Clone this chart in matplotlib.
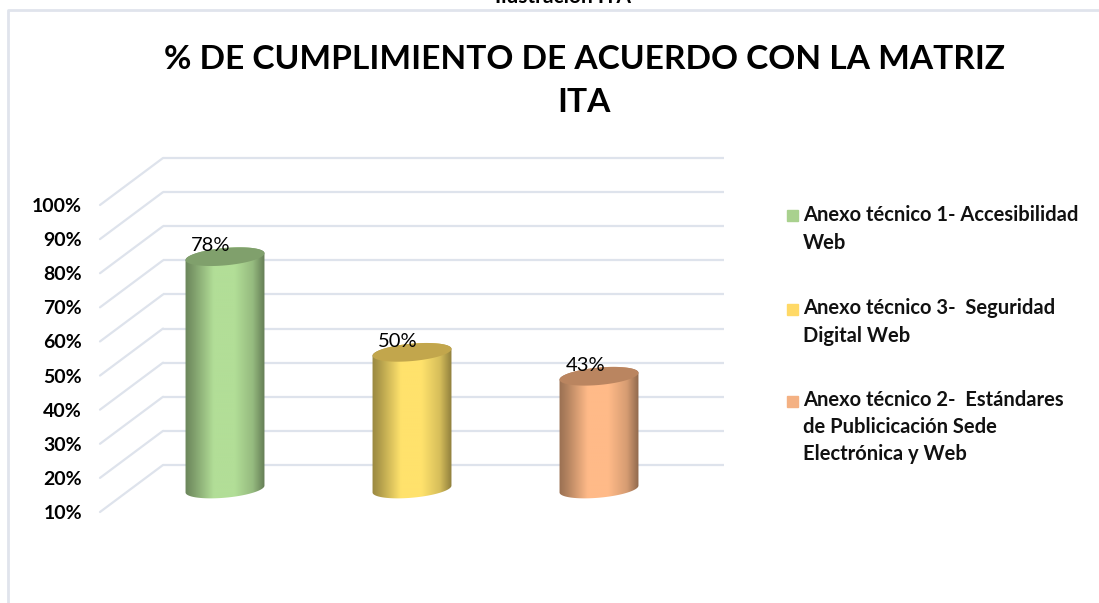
#!/usr/bin/env python
import matplotlib
matplotlib.use("Agg")
import matplotlib.pyplot as plt
import numpy as np
from matplotlib.lines import Line2D
from matplotlib.patches import ConnectionPatch, PathPatch, Rectangle
from matplotlib.path import Path
from matplotlib.colors import to_rgb

caption = "Ilustración ITA"
title = "% DE CUMPLIMIENTO DE ACUERDO CON LA MATRIZ\nITA"
percent_ticks = [10, 20, 30, 40, 50, 60, 70, 80, 90, 100]
tick_labels = ["10%", "20%", "30%", "40%", "50%", "60%", "70%", "80%", "90%", "100%"]
values = [78, 50, 43]
value_labels = ["78%", "50%", "43%"]
categories = ["Anexo técnico 1- Accesibilidad\nWeb",
              "Anexo técnico 3-  Seguridad\nDigital Web",
              "Anexo técnico 2-  Estándares\nde Publicicación Sede\nElectrónica y Web"]
body_colors = ["#B2DE97", "#FFE26C", "#FFBA88"]
cap_colors = ["#80A06C", "#C2A64C", "#BA8560"]
legend_colors = ["#A9D18E", "#FFD966", "#F4B183"]

W, H = 1099, 603
GRID = "#DEE3EC"

# legend layout in pixels: first line centre, number of lines
legend_rows = [(216, 2), (309, 2), (401, 3)]
LINE_PITCH = 26


def add_plane(x0, y_top, y_bot, width=561):
    # axes placed in pixel positions, y runs from 10% to 100%
    ax = fig.add_axes([x0 / W, 1 - y_bot / H, width / W, (y_bot - y_top) / H])
    ax.set_xlim(-0.5, 2.5)
    ax.set_ylim(10, 100)
    ax.patch.set_visible(False)
    for s in ax.spines.values():
        s.set_visible(False)
    ax.set_xticks([])
    ax.set_yticks([])
    return ax


def ellipse(cx, cy, t):
    # tilted ellipse, right side sits a little higher than left
    a, b, tilt = 0.211, 2.55, 1.0
    return cx + a * np.cos(t), cy + b * np.sin(t) + tilt * np.cos(t)


def draw_cylinder(ax, cx, value, body, cap):
    xb, yb = ellipse(cx, 10, np.linspace(np.pi, 2 * np.pi, 60))
    xt, yt = ellipse(cx, value, np.linspace(0, np.pi, 60))
    verts = np.column_stack([np.r_[xb, xt], np.r_[yb, yt]])
    clip = PathPatch(Path(verts), transform=ax.transData, fc="none", ec="none")
    ax.add_patch(clip)

    pos = np.linspace(0, 1, 200)
    shade = np.interp(pos, [0, 0.1, 0.36, 0.62, 0.85, 1], [0.6, 0.7, 1, 1, 0.84, 0.56])
    grad = np.array(to_rgb(body))[None, None, :] * shade[None, :, None]
    im = ax.imshow(grad, extent=[cx - 0.212, cx + 0.212, 0, value + 5], aspect="auto",
                   interpolation="bilinear", zorder=2)
    # the base of the cylinder hangs below the axes box
    im.set_clip_box(fig.bbox)
    im.set_clip_path(clip)

    xc, yc = ellipse(cx, value, np.linspace(0, 2 * np.pi, 120))
    ax.fill(xc, yc, color=cap, lw=0, zorder=3, clip_on=False)


fig = plt.figure(figsize=(W / 100, H / 100), dpi=100)
plt.rcParams["font.family"] = ["Lato", "DejaVu Sans"]

# outer frame of the screenshot
fig.add_artist(Line2D([8 / W, 8 / W, 1], [0, 1 - 10 / H, 1 - 10 / H], color="#E0E4EC", lw=2))
fig.text(563 / W, 1 - 3 / H, caption, ha="center", va="baseline", fontsize=15, fontweight="bold")
fig.text(584 / W, 1 - 81 / H, title, ha="center", va="center", fontsize=24.1,
         fontweight="bold", linespacing=1.56)

back = add_plane(163, 158, 465)
mid = add_plane(131.5, 181.5, 489)
front = add_plane(100, 205, 512)

back.hlines(percent_ticks, -0.5, 2.5, color=GRID, lw=1.6, clip_on=False)
for p in percent_ticks:
    back.add_artist(ConnectionPatch((-0.5, p), (-0.5, p), coordsA=back.transData,
                                    coordsB=front.transData, color=GRID, lw=1.6))

front.set_yticks(percent_ticks, tick_labels, fontsize=14, fontweight="bold")
front.tick_params(axis="y", length=0, pad=13)

for i, v in enumerate(values):
    draw_cylinder(mid, i, v, body_colors[i], cap_colors[i])
    mid.annotate(value_labels[i], (i, v), xytext=(-10, 8), textcoords="offset points",
                 ha="center", va="center", fontsize=14.5, zorder=5)
mid.set_xlim(-0.5, 2.5)
mid.set_ylim(10, 100)

for (y0, nlines), label, color in zip(legend_rows, categories, legend_colors):
    fig.add_artist(Rectangle((787 / W, 1 - (y0 + 5.5) / H), 11 / W, 11 / H, color=color,
                             transform=fig.transFigure))
    fig.text(803 / W, 1 - (y0 + (nlines - 1) * LINE_PITCH / 2) / H, label, ha="left", va="center",
             fontsize=14.5, fontweight="bold", color="#111111", linespacing=1.45)

fig.savefig("out.png", dpi=100)
